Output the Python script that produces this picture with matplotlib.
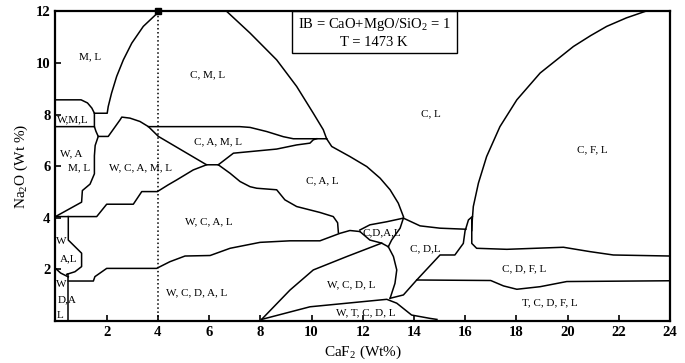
import matplotlib.pyplot as plt
from matplotlib.patches import Rectangle

plt.rcParams['font.family'] = ['Liberation Serif', 'DejaVu Serif']
plt.rcParams['mathtext.fontset'] = 'custom'
plt.rcParams['mathtext.rm'] = 'Liberation Serif'

# phase boundaries, CaF2 (x) vs Na2O (y), wt%
ml_x = [4.05, 3.43, 2.98, 2.65, 2.39, 2.19, 2.06, 2.02, 1.52]
ml_y = [12.0, 11.42, 10.77, 10.12, 9.48, 8.83, 8.31, 8.05, 8.05]

wml_top_x = [0, 1.0, 1.25, 1.42, 1.52, 1.52]
wml_top_y = [8.57, 8.57, 8.45, 8.25, 8.05, 7.53]

wml_bot_x = [0, 1.52, 1.58, 1.67, 2.06, 2.52, 2.59, 2.91, 3.3, 3.63, 4.02, 5.9, 6.36]
wml_bot_y = [7.53, 7.53, 7.35, 7.15, 7.15, 7.79, 7.9, 7.86, 7.73, 7.53, 7.15, 6.05, 6.05]

wam_x = [1.67, 1.55, 1.52, 1.52, 1.35, 1.05, 1.02, 0]
wam_y = [7.15, 6.8, 6.4, 5.7, 5.3, 5.05, 4.6, 4.04]

stair_x = [0, 1.61, 2.0, 3.04, 3.37, 3.98, 4.4, 4.73, 5.38, 5.9]
stair_y = [4.04, 4.04, 4.52, 4.52, 5.01, 5.01, 5.27, 5.46, 5.85, 6.05]

camtop_x = [3.63, 7.2, 7.6, 8.25, 8.9, 9.29, 10.59]
camtop_y = [7.53, 7.53, 7.5, 7.34, 7.14, 7.06, 7.06]

cambot_x = [6.36, 6.95, 8.64, 9.42, 9.94, 10.07, 10.2]
cambot_y = [6.05, 6.5, 6.66, 6.82, 6.89, 7.02, 7.06]

cml_x = [6.69, 7.6, 8.64, 9.42, 10.07, 10.46, 10.59]
cml_y = [12.0, 11.16, 10.12, 9.09, 8.05, 7.41, 7.06]

cl_x = [10.59, 10.79, 11.5, 12.16, 12.68, 13.07, 13.39, 13.59]
cl_y = [7.06, 6.76, 6.37, 5.98, 5.53, 5.08, 4.56, 4.04]

wcal_x = [6.36, 6.82, 7.21, 7.6, 7.86, 8.64, 8.96, 9.42, 10.33, 10.85, 11.02, 11.05]
wcal_y = [6.05, 5.72, 5.4, 5.2, 5.14, 5.08, 4.69, 4.43, 4.2, 4.04, 3.8, 3.42]

wcdal_x = [0.5, 1.48, 1.54, 2.0, 3.95, 4.47, 5.06, 6.04, 6.82, 7.99, 9.16, 10.33, 11.11, 11.5, 11.89]
wcdal_y = [1.54, 1.54, 1.71, 2.03, 2.03, 2.29, 2.51, 2.53, 2.81, 3.04, 3.1, 3.1, 3.39, 3.5, 3.46]

bub_up_x = [11.89, 12.28, 12.94, 13.59]
bub_up_y = [3.52, 3.72, 3.84, 3.98]
bub_r_x = [13.59, 13.46, 13.13, 13.0]
bub_r_y = [3.98, 3.59, 3.13, 2.87]
bub_lo_x = [11.89, 12.28, 12.74, 13.0]
bub_lo_y = [3.46, 3.13, 3.01, 2.87]

stem_x = [13.0, 13.2, 13.33, 13.26, 13.07]
stem_y = [2.87, 2.49, 1.97, 1.45, 0.87]

wcdl_x = [8.05, 9.16, 10.07, 11.38, 12.74]
wcdl_y = [0.05, 1.19, 1.97, 2.49, 3.01]

wtcdl_x = [8.05, 9.94, 12.94, 13.33, 13.91, 14.63, 14.9]
wtcdl_y = [0.05, 0.54, 0.83, 0.68, 0.22, 0.09, 0.05]

cdl_x = [13.07, 13.59, 14.11, 15.02, 15.6, 15.93, 16.0, 16.02]
cdl_y = [0.87, 1.0, 1.58, 2.55, 2.55, 3.0, 3.5, 3.55]

clcdl_x = [13.59, 14.24, 15.02, 16.02]
clcdl_y = [3.98, 3.68, 3.59, 3.55]

spike_x = [16.02, 16.13, 16.28]
spike_y = [3.55, 3.91, 4.04]

cdfl_top_x = [16.26, 16.26, 16.45, 17.63, 19.84, 20.88, 21.79, 24]
cdfl_top_y = [3.95, 3.0, 2.81, 2.77, 2.85, 2.68, 2.55, 2.51]

cfl_x = [23.03, 22.3, 21.53, 20.9, 20.23, 18.93, 18.02, 17.36, 16.84, 16.52, 16.32, 16.28, 16.26]
cfl_y = [12.0, 11.75, 11.42, 11.06, 10.64, 9.61, 8.57, 7.53, 6.37, 5.34, 4.43, 3.91, 3.5]

cdfl_bot_x = [14.11, 17.0, 17.5, 18.02, 18.93, 19.97, 24]
cdfl_bot_y = [1.58, 1.56, 1.35, 1.22, 1.32, 1.52, 1.55]

wal_x = [0.5, 0.5, 1.02, 1.02, 0.76, 0.44]
wal_y = [4.04, 3.13, 2.62, 2.1, 1.9, 1.8]
wal_bot_x = [0, 0.2, 0.4, 0.5]
wal_bot_y = [2.03, 1.85, 1.75, 1.7]
wda_x = [0.5, 0.5]
wda_y = [1.8, 0]

curves = [(ml_x, ml_y), (wml_top_x, wml_top_y), (wml_bot_x, wml_bot_y), (wam_x, wam_y),
          (stair_x, stair_y), (camtop_x, camtop_y), (cambot_x, cambot_y), (cml_x, cml_y),
          (cl_x, cl_y), (wcal_x, wcal_y), (wcdal_x, wcdal_y), (bub_up_x, bub_up_y),
          (bub_r_x, bub_r_y), (bub_lo_x, bub_lo_y), (stem_x, stem_y), (wcdl_x, wcdl_y),
          (wtcdl_x, wtcdl_y), (cdl_x, cdl_y), (clcdl_x, clcdl_y), (spike_x, spike_y),
          (cdfl_top_x, cdfl_top_y), (cfl_x, cfl_y), (cdfl_bot_x, cdfl_bot_y),
          (wal_x, wal_y), (wal_bot_x, wal_bot_y), (wda_x, wda_y)]

labels = ['M, L', 'C, M, L', 'W,M,L', 'W, A', 'M, L', 'W, C, A, M, L', 'C, A, M, L',
          'C, A, L', 'C, L', 'C, F, L', 'W, C, A, L', 'W, C, D, A, L', 'C,D,A,L', 'C, D,L',
          'W, C, D, L', 'W, T, C, D, L', 'C, D, F, L', 'T, C, D, F, L',
          'W', 'A,L', 'W', 'D,A', 'L']
label_x = [1.35, 5.94, 0.66, 0.61, 0.92, 3.33, 6.33, 10.43, 14.65, 20.95, 5.97, 5.52, 12.75, 14.46,
           11.54, 12.12, 18.31, 19.32, 0.24, 0.5, 0.24, 0.44, 0.18]
label_y = [10.25, 9.54, 7.78, 6.47, 5.92, 5.94, 6.95, 5.44, 8.03, 6.63, 3.84, 1.09, 3.4, 2.81,
           1.39, 0.29, 2.03, 0.68, 3.07, 2.42, 1.39, 0.8, 0.22]

fig = plt.figure(figsize=(6.85, 3.63), dpi=100)
ax = fig.add_axes([0.081, 0.1165, 0.897, 0.852])

for cx, cy in curves:
    ax.plot(cx, cy, color='k', lw=1.1)

ax.plot([4, 4], [0, 12], color='k', lw=1.1, ls=':')
ax.plot([4], [12], marker='s', color='k', ms=4, clip_on=False)

for t, x, y in zip(labels, label_x, label_y):
    ax.text(x, y, t, fontsize=8, ha='center', va='center')

ax.add_patch(Rectangle((9.23, 10.38), 6.44, 1.62, fill=False, ec='k', lw=1.0))
ax.text(12.45, 11.48, 'IB = CaO+MgO/SiO$_2$ = 1', fontsize=10.5, ha='center', va='center')
ax.text(12.45, 10.8, 'T = 1473 K', fontsize=10.5, ha='center', va='center')

ax.set_xlim(0, 24)
ax.set_ylim(0, 12)
ax.set_xticks(range(2, 25, 2))
ax.set_yticks(range(2, 13, 2))
ax.tick_params(direction='in', length=4, width=1.2, labelsize=10.5)
for lab in ax.get_xticklabels() + ax.get_yticklabels():
    lab.set_fontweight('bold')
for s in ax.spines.values():
    s.set_linewidth(1.6)

ax.set_xlabel('CaF$_2$ (Wt%)', fontsize=11, labelpad=4)
ax.set_ylabel('Na$_2$O (Wt %)', fontsize=11, labelpad=4)

fig.savefig('out.png', dpi=100)
